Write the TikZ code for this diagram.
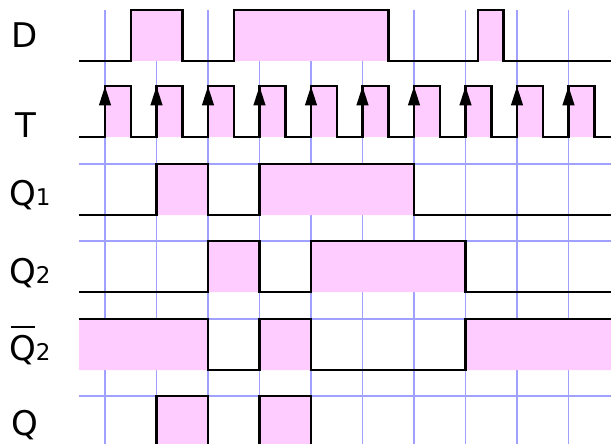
\documentclass[tikz,border=0pt]{standalone}
\usepackage{fontspec}
\setmainfont{DejaVu Sans}
\definecolor{gridblue}{RGB}{160,160,255}
\definecolor{pinkfill}{RGB}{255,204,255}
\begin{document}
\begin{tikzpicture}[x=1pt,y=-1pt,
  gridline/.style={draw=gridblue,line width=1.6pt},
  gridthin/.style={draw=gridblue,line width=1.1pt},
  wave/.style={draw=black,line width=2.5pt,line join=miter},
  hi/.style={fill=pinkfill},
  edgetip/.pic={\fill[black] (-6.2,19) -- (0,0) -- (6.2,19) -- cycle;},
  lbl/.style={anchor=base west,inner sep=0pt,font=\fontsize{34}{40}\selectfont}]
\useasboundingbox (0,0) rectangle (611,444);
\fill[white] (0,0) rectangle (611,444);
\clip (0,0) rectangle (611,444);
% grid
\foreach \k in {0,...,9} {
  \draw[gridthin] ({105+51.5*\k},10) -- ({105+51.5*\k},150);
  \draw[gridline] ({105+51.5*\k},150) -- ({105+51.5*\k},444);
}
\foreach \y in {164,241,319,396} \draw[gridline] (79,\y) -- (611,\y);
% pink fills
\fill[hi] (130.75,10) rectangle (182.25,61) (233.75,10) rectangle (388.25,61) (478,10) rectangle (503.5,61);
\foreach \k in {0,...,9} \fill[hi] ({105+51.5*\k},86) rectangle ++(25.75,51);
\fill[hi] (156.5,164) rectangle (208,215) (259.5,164) rectangle (414,215);
\fill[hi] (208,241) rectangle (259.5,292) (311,241) rectangle (465.5,292);
\fill[hi] (79,319) rectangle (208,370) (259.5,319) rectangle (311,370) (465.5,319) rectangle (611,370);
\fill[hi] (156.5,396) rectangle (208,450) (259.5,396) rectangle (311,450);
% waveforms
\draw[wave] (79,61) -| (130.75,10) -| (182.25,61) -| (233.75,10) -| (388.25,61) -| (478,10) -| (503.5,61) -- (611,61);
\draw[wave] (79,137) \foreach \k in {0,...,9} { -- ({105+51.5*\k},137) -- ++(0,-51) -- ++(25.75,0) -- ++(0,51) } -- (611,137);
\draw[wave] (79,215) -| (156.5,164) -| (208,215) -| (259.5,164) -| (414,215) -- (611,215);
\draw[wave] (79,292) -| (208,241) -| (259.5,292) -| (311,241) -| (465.5,292) -- (611,292);
\draw[wave] (79,319) -| (208,370) -| (259.5,319) -| (311,370) -| (465.5,319) -- (611,319);
\draw[wave] (79,450) -| (156.5,396) -| (208,450) -| (259.5,396) -| (311,450) -- (611,450);
% clock edge arrows
\foreach \k in {0,...,9} \pic at ({105+51.5*\k},86.5) {edgetip};
% labels
\node[lbl] (lblD) at (11.7,47.3) {D};
\node[lbl] (lblT) at (15,137.7) {T};
\node[lbl] (lblQ1) at (9,205) {Q{\fontsize{23}{23}\selectfont 1}};
\node[lbl] (lblQ2) at (9,283) {Q{\fontsize{23}{23}\selectfont 2}};
\node[lbl] (lblQ2b) at (9,360) {\makebox[0pt][l]{\hspace{1.9pt}\rule[32pt]{24pt}{1.6pt}}Q{\fontsize{23}{23}\selectfont 2}};
\node[lbl] (lblQ) at (11,435) {Q};
\end{tikzpicture}
\end{document}
